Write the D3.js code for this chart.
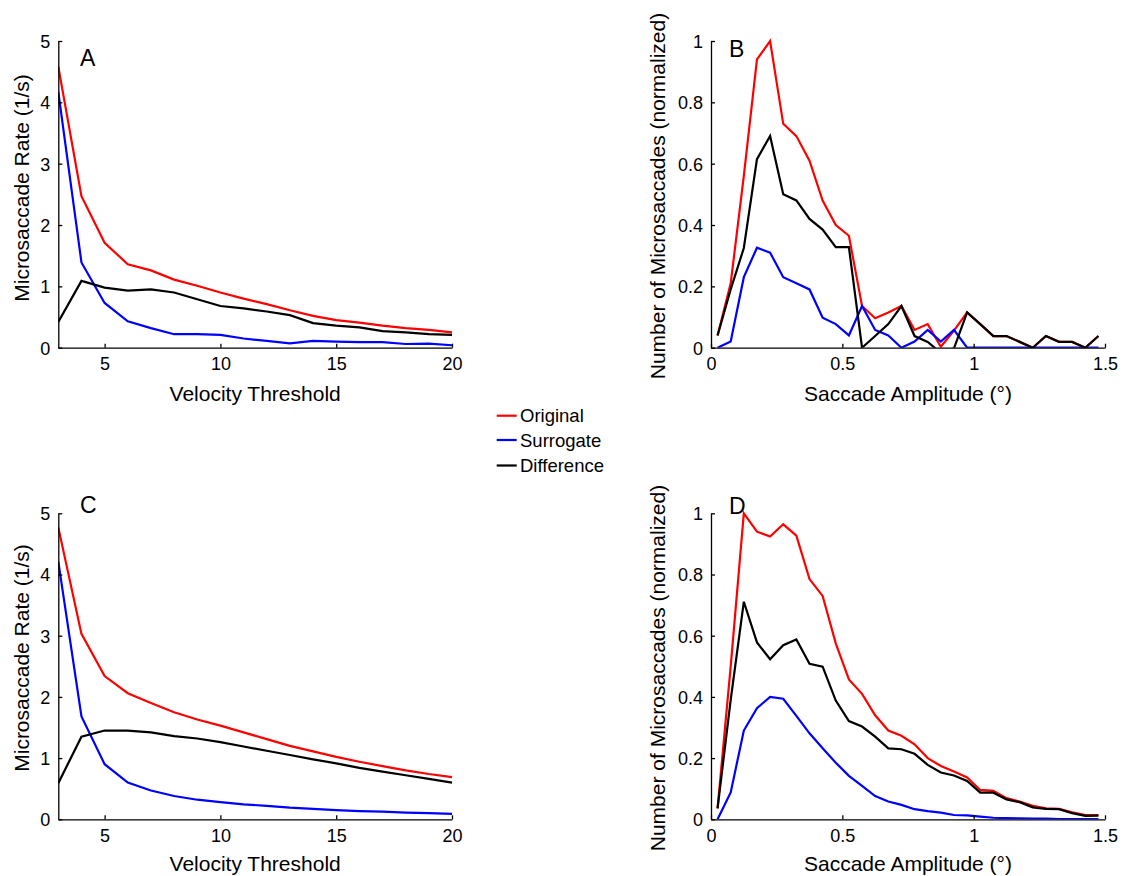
<!DOCTYPE html>
<html>
<head>
<meta charset="utf-8">
<script src="https://cdn.jsdelivr.net/npm/d3@7"></script>
<style>
  html, body { margin: 0; padding: 0; background: #fff; }
  svg { display: block; font-family: "Liberation Sans", Arial, sans-serif; }
</style>
</head>
<body>
<svg id="chart" width="1124" height="876"></svg>
<script>
// ---------- DATA ----------
const seriesNames = ["Original", "Surrogate", "Difference"];
const seriesColors = ["#ff0000", "#0000ff", "#000000"];

// Panels A & C: velocity thresholds
const thresholds = [3,4,5,6,7,8,9,10,11,12,13,14,15,16,17,18,19,20];
const A_original   = [4.58,2.47,1.71,1.36,1.26,1.11,1.01,0.90,0.80,0.71,0.61,0.52,0.45,0.41,0.36,0.32,0.29,0.25];
const A_surrogate  = [4.17,1.39,0.73,0.43,0.32,0.22,0.22,0.21,0.15,0.11,0.07,0.11,0.10,0.09,0.09,0.06,0.065,0.04];
const A_difference = [0.42,1.09,0.98,0.93,0.95,0.90,0.79,0.68,0.64,0.59,0.53,0.40,0.36,0.33,0.27,0.25,0.22,0.21];

const C_original   = [4.77,3.03,2.34,2.06,1.90,1.75,1.63,1.53,1.42,1.31,1.20,1.11,1.02,0.94,0.87,0.80,0.74,0.69];
const C_surrogate  = [4.21,1.68,0.90,0.60,0.47,0.38,0.32,0.28,0.245,0.22,0.19,0.17,0.15,0.135,0.125,0.11,0.10,0.09];
const C_difference = [0.59,1.35,1.45,1.45,1.42,1.36,1.32,1.26,1.19,1.12,1.05,0.98,0.915,0.84,0.78,0.72,0.66,0.60];

// Panels B & D: saccade amplitude bin centres (deg)
const amplitudes = [0.025,0.075,0.125,0.175,0.225,0.275,0.325,0.375,0.425,0.475,0.525,0.575,0.625,0.675,0.725,0.775,0.825,0.875,0.925,0.975,1.025,1.075,1.125,1.175,1.225,1.275,1.325,1.375,1.425,1.475];
const B_original   = [0.04,0.21,0.56,0.94,1.00,0.73,0.69,0.61,0.48,0.40,0.365,0.136,0.096,0.115,0.136,0.058,0.077,0.003,0.056,0.115,0.077,0.038,0.038,0.019,0.0,0.038,0.019,0.019,0.0,0.038];
const B_surrogate  = [0.0,0.02,0.23,0.326,0.31,0.23,0.21,0.19,0.098,0.077,0.04,0.136,0.058,0.04,0.0,0.02,0.058,0.02,0.058,0.0,0,0,0,0,0,0,0,0,0,0];
const B_difference = [0.04,0.19,0.325,0.615,0.69,0.50,0.48,0.42,0.385,0.328,0.328,0.0,0.038,0.077,0.136,0.038,0.019,-0.017,-0.002,0.115,0.077,0.038,0.038,0.019,0.0,0.038,0.019,0.019,0.0,0.038];

const D_original   = [0.036,0.50,1.00,0.94,0.924,0.964,0.927,0.785,0.73,0.575,0.457,0.41,0.34,0.29,0.273,0.245,0.20,0.174,0.156,0.137,0.096,0.093,0.069,0.058,0.044,0.036,0.034,0.023,0.014,0.014];
const D_surrogate  = [0.0,0.088,0.29,0.363,0.40,0.394,0.338,0.281,0.232,0.185,0.142,0.109,0.076,0.058,0.047,0.033,0.027,0.022,0.014,0.013,0.009,0.005,0.004,0.003,0.002,0.002,0.001,0.001,0.001,0.001];
const D_difference = [0.036,0.39,0.711,0.578,0.523,0.569,0.588,0.508,0.499,0.388,0.321,0.303,0.27,0.232,0.229,0.214,0.178,0.153,0.143,0.125,0.087,0.087,0.065,0.056,0.039,0.034,0.033,0.02,0.011,0.012];

const rateTicks = [0,1,2,3,4,5];
const thresholdTicks = [5,10,15,20];
const normTicks = [0,0.2,0.4,0.6,0.8,1];
const ampTicks = [0,0.5,1,1.5];

// ---------- LAYOUT ----------
const svg = d3.select("#chart");
const FONT_TICK = 18, FONT_LABEL = 21, FONT_LETTER = 23, FONT_LEGEND = 18.5;

const panels = [
  { id: "A", xs: thresholds, ys: [A_original, A_surrogate, A_difference],
    xDomain: [3, 20], yDomain: [0, 5], xTicks: thresholdTicks, yTicks: rateTicks,
    xr: [58.3, 452], yr: [347.7, 41], xLabel: "Velocity Threshold", yLabel: "Microsaccade Rate (1/s)",
    xLabelY: 401, yLabelX: 29.3, yLabelC: 188, letter: [80, 66], yFmt: d => d3.format("d")(d) },
  { id: "B", xs: amplitudes, ys: [B_original, B_surrogate, B_difference],
    xDomain: [0, 1.5], yDomain: [0, 1], xTicks: ampTicks, yTicks: normTicks,
    xr: [711, 1105], yr: [347.7, 41], xLabel: "Saccade Amplitude (°)", yLabel: "Number of Microsaccades (normalized)",
    xLabelY: 401, yLabelX: 665, yLabelC: 196, letter: [729, 57], yFmt: d => String(+d.toFixed(1)) },
  { id: "C", xs: thresholds, ys: [C_original, C_surrogate, C_difference],
    xDomain: [3, 20], yDomain: [0, 5], xTicks: thresholdTicks, yTicks: rateTicks,
    xr: [58.3, 452], yr: [819.3, 513.3], xLabel: "Velocity Threshold", yLabel: "Microsaccade Rate (1/s)",
    xLabelY: 871, yLabelX: 29.3, yLabelC: 658, letter: [80, 513], yFmt: d => d3.format("d")(d) },
  { id: "D", xs: amplitudes, ys: [D_original, D_surrogate, D_difference],
    xDomain: [0, 1.5], yDomain: [0, 1], xTicks: ampTicks, yTicks: normTicks,
    xr: [711, 1105], yr: [819.3, 513.3], xLabel: "Saccade Amplitude (°)", yLabel: "Number of Microsaccades (normalized)",
    xLabelY: 871, yLabelX: 665, yLabelC: 668, letter: [729, 514], yFmt: d => String(+d.toFixed(1)) }
];

panels.forEach(p => {
  const x = d3.scaleLinear().domain(p.xDomain).range(p.xr);
  const y = d3.scaleLinear().domain(p.yDomain).range(p.yr);
  const g = svg.append("g");

  // clip to axes area (bottom edge clips below-zero values)
  const clipId = "clip" + p.id;
  svg.append("clipPath").attr("id", clipId).append("rect")
    .attr("x", p.xr[0]).attr("y", p.yr[1] - 10)
    .attr("width", p.xr[1] - p.xr[0] + 6).attr("height", p.yr[0] - p.yr[1] + 10);

  // lines
  const line = d3.line().x((d, i) => x(p.xs[i])).y(d => y(d));
  const lg = g.append("g").attr("clip-path", `url(#${clipId})`);
  p.ys.forEach((vals, k) => {
    lg.append("path").datum(vals)
      .attr("d", line)
      .attr("fill", "none")
      .attr("stroke", seriesColors[k])
      .attr("stroke-width", 2.2)
      .attr("stroke-linejoin", "miter");
  });

  // axes
  const xAxis = d3.axisBottom(x).tickValues(p.xTicks).tickSizeInner(-4).tickSizeOuter(0)
    .tickPadding(10).tickFormat(d => String(d));
  const yAxis = d3.axisLeft(y).tickValues(p.yTicks).tickSizeInner(-4).tickSizeOuter(0)
    .tickPadding(8).tickFormat(p.yFmt);

  const gx = g.append("g").attr("transform", `translate(0,${p.yr[0]})`).call(xAxis);
  const gy = g.append("g").attr("transform", `translate(${p.xr[0]},0)`).call(yAxis);
  [gx, gy].forEach(a => {
    a.selectAll("path.domain").attr("stroke", "#000").attr("stroke-width", 1.3);
    a.selectAll(".tick line").attr("stroke", "#000").attr("stroke-width", 1.3);
    a.selectAll(".tick text").attr("fill", "#000").style("font-size", FONT_TICK + "px")
      .style("font-family", '"Liberation Sans", Arial, sans-serif');
  });
  gy.selectAll(".tick text").attr("dy", "0.36em");

  // axis labels
  g.append("text").attr("x", (p.xr[0] + p.xr[1]) / 2).attr("y", p.xLabelY)
    .attr("text-anchor", "middle").style("font-size", FONT_LABEL + "px").text(p.xLabel);
  g.append("text").attr("transform", `translate(${p.yLabelX},${p.yLabelC}) rotate(-90)`)
    .attr("text-anchor", "middle").style("font-size", FONT_LABEL + "px").text(p.yLabel);

  // panel letter
  g.append("text").attr("x", p.letter[0]).attr("y", p.letter[1])
    .style("font-size", FONT_LETTER + "px").text(p.id);
});

// ---------- LEGEND ----------
const legendY = [415.7, 440, 465.5];
const leg = svg.append("g");
seriesNames.forEach((name, k) => {
  leg.append("line").attr("x1", 496.7).attr("x2", 516.7)
    .attr("y1", legendY[k]).attr("y2", legendY[k])
    .attr("stroke", seriesColors[k]).attr("stroke-width", 2.2);
  leg.append("text").attr("x", 520).attr("y", legendY[k] + 6.6)
    .style("font-size", FONT_LEGEND + "px").text(name);
});
</script>
</body>
</html>
